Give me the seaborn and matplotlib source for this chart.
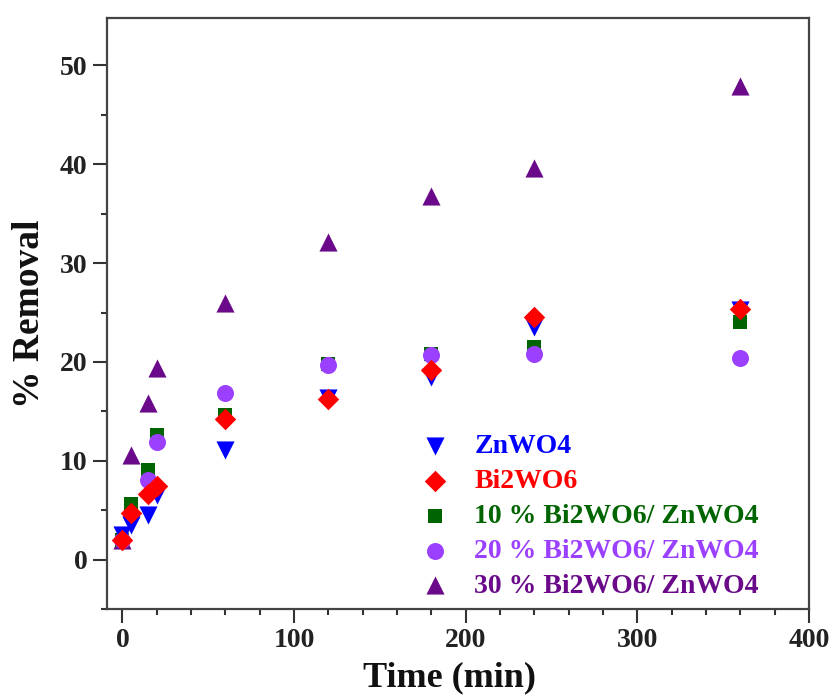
import matplotlib
matplotlib.use("Agg")
import matplotlib.pyplot as plt
from matplotlib.ticker import MultipleLocator
import seaborn as sns
import pandas as pd

time = [0, 5, 15, 20, 60, 120, 180, 240, 360]
znwo4 = [2.5, 3.5, 4.5, 6.5, 11.1, 16.4, 18.5, 23.5, 25.3]
bi2wo6 = [2.0, 4.7, 6.6, 7.4, 14.2, 16.2, 19.2, 24.5, 25.4]
bw10 = [2.0, 5.6, 9.1, 12.6, 14.6, 19.8, 20.8, 21.5, 24.0]
bw20 = [2.0, 4.5, 8.1, 11.9, 16.9, 19.7, 20.7, 20.8, 20.4]
bw30 = [2.0, 10.6, 15.8, 19.4, 26.0, 32.1, 36.8, 39.6, 47.9]

labels = ["ZnWO4", "Bi2WO6", "10 % Bi2WO6/ ZnWO4", "20 % Bi2WO6/ ZnWO4", "30 % Bi2WO6/ ZnWO4"]
series = [znwo4, bi2wo6, bw10, bw20, bw30]
colors = ["#0000FF", "#FF0000", "#006400", "#9B40FF", "#6A0A8A"]
markers = ["v", "D", "s", "o", "^"]
sizes = [170, 120, 110, 150, 170]
zorders = [5, 6, 3, 4, 2]

sns.set_style("ticks")
plt.rcParams['font.family'] = ['Liberation Serif', 'DejaVu Serif']
plt.rcParams['font.weight'] = 'bold'

fig = plt.figure(figsize=(8.34, 6.98), dpi=100)
ax = fig.add_axes([0.1283, 0.1275, 0.8417, 0.8467])

for lab, vals, c, m, s, z in zip(labels, series, colors, markers, sizes, zorders):
    df = pd.DataFrame({"Time": time, "Removal": vals})
    sns.scatterplot(data=df, x="Time", y="Removal", ax=ax, color=c, marker=m,
                    s=s, linewidth=0, zorder=z, label=lab)

ax.set_xlim(-9, 400)
ax.set_ylim(-5, 54.8)
ax.xaxis.set_major_locator(MultipleLocator(100))
ax.xaxis.set_minor_locator(MultipleLocator(20))
ax.yaxis.set_major_locator(MultipleLocator(10))
ax.yaxis.set_minor_locator(MultipleLocator(5))
ax.tick_params(which='major', direction='out', length=10, width=1.5, labelsize=20,
               pad=4, colors='#333333', labelcolor='#222222')
ax.tick_params(which='minor', direction='out', length=4, width=1.5, colors='#333333')
for sp in ax.spines.values():
    sp.set_linewidth(1.6)
    sp.set_color('#444444')
for t in ax.get_xticklabels() + ax.get_yticklabels():
    t.set_fontweight('bold')

ax.set_xlabel("Time (min)", fontsize=26, fontweight='bold', color='#111111')
ax.set_ylabel("% Removal", fontsize=27, fontweight='bold', color='#111111')
ax.xaxis.set_label_coords(0.488, -0.088)
ax.yaxis.set_label_coords(-0.085, 0.5)

leg = ax.legend(loc='center left', bbox_to_anchor=(0.432, 0.157), frameon=False,
                handlelength=1.2, handletextpad=0.8, labelspacing=0.34, borderaxespad=0,
                borderpad=0.3, prop={'weight': 'bold', 'size': 20})
for txt, c in zip(leg.get_texts(), colors):
    txt.set_color(c)

fig.savefig("out.png", dpi=100)
